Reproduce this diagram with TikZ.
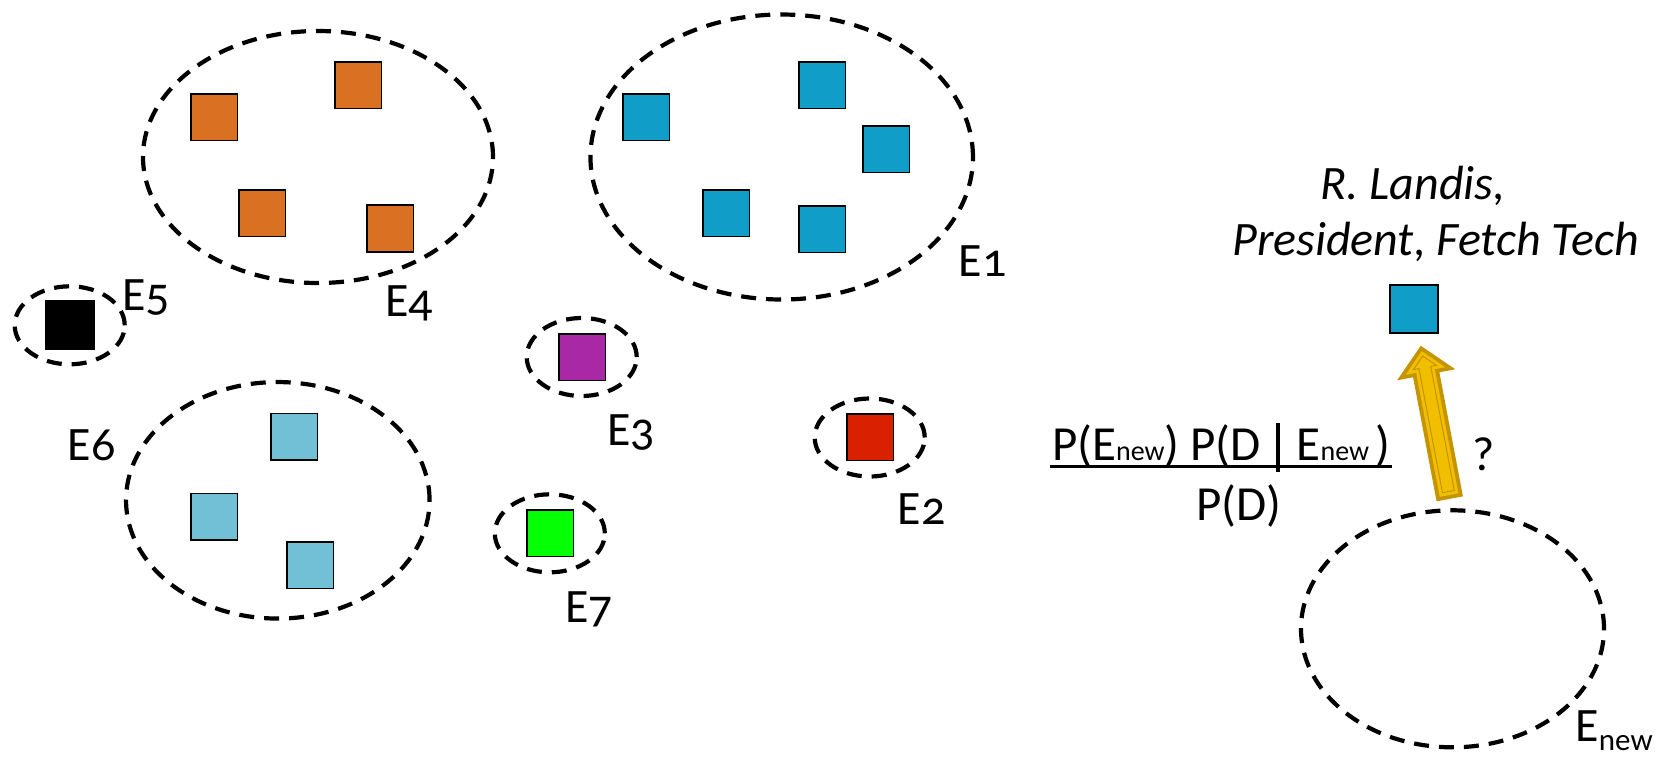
\documentclass[tikz,border=0pt]{standalone}
\usepackage{fontspec}
\setmainfont{Carlito}[Numbers=OldStyle]
\usetikzlibrary{shapes.geometric,calc}
\definecolor{orangeE}{RGB}{217,112,34}
\definecolor{blueE}{RGB}{16,158,200}
\definecolor{lblueE}{RGB}{114,192,214}
\definecolor{purpleE}{RGB}{168,40,166}
\definecolor{redE}{RGB}{217,32,0}
\definecolor{greenE}{RGB}{5,255,5}
\definecolor{goldD}{RGB}{196,148,2}
\definecolor{goldY}{RGB}{242,190,0}
\begin{document}
\begin{tikzpicture}[x=1pt,y=-1pt,
  grp/.style={ellipse, draw=black, line width=4.2pt, dash pattern=on 15pt off 10pt, inner sep=0pt},
  smallgrp/.style={grp, minimum width=110pt, minimum height=78pt},
  sq/.style={rectangle, draw=black, line width=1.6pt, minimum size=46.6pt, inner sep=0pt},
  lbl/.style={anchor=base west, inner sep=0pt, font=\fontsize{48}{56}\selectfont},
  txt/.style={anchor=base, inner sep=0pt, font=\fontsize{49}{56}\selectfont},
  ittxt/.style={anchor=base, inner sep=0pt, font=\fontsize{48}{56}\selectfont\itshape},
]
\useasboundingbox (0,0) rectangle (1675,756);

% E4 (orange)
\node[grp, minimum width=350pt, minimum height=252pt] (e4) at (318,157) {};
\node[sq, fill=orangeE] (o1) at (214,117) {};
\node[sq, fill=orangeE] (o2) at (358,85) {};
\node[sq, fill=orangeE] (o3) at (262,213) {};
\node[sq, fill=orangeE] (o4) at (390,228.5) {};
\node[lbl] (l4) at (385,316.7) {E4};

% E1 (blue)
\node[grp, minimum width=382.5pt, minimum height=285pt] (e1) at (781.7,157) {};
\node[sq, fill=blueE] (b1q) at (646,117) {};
\node[sq, fill=blueE] (b2q) at (822,85) {};
\node[sq, fill=blueE] (b3q) at (886,149) {};
\node[sq, fill=blueE] (b4q) at (726,213) {};
\node[sq, fill=blueE] (b5q) at (822,229) {};
\node[lbl] (l1) at (958.7,276.7) {E1};

% E5 (black)
\node[smallgrp] (e5) at (69.7,325.3) {};
\node[sq, fill=black, minimum size=48.5pt] (k1) at (70,325) {};
\node[lbl] (l5) at (122,310.7) {E5};

% E6 (light blue)
\node[grp, minimum width=303.5pt, minimum height=236.5pt] (e6) at (277.8,500.3) {};
\node[sq, fill=lblueE] (c1) at (294,436.7) {};
\node[sq, fill=lblueE] (c2) at (214,516.7) {};
\node[sq, fill=lblueE] (c3) at (310,565) {};
\node[lbl] (l6) at (67.7,460.7) {E6};

% E3 (purple)
\node[smallgrp] (e3) at (581.7,357) {};
\node[sq, fill=purpleE] (p1) at (582,357) {};
\node[lbl] (l3) at (607,445) {E3};

% E2 (red)
\node[smallgrp] (e2) at (869.7,437.5) {};
\node[sq, fill=redE] (r1) at (870,437) {};
\node[lbl] (l2) at (897.7,524) {E2};

% E7 (green)
\node[smallgrp] (e7) at (549.8,533.3) {};
\node[sq, fill=greenE] (g1) at (550,533) {};
\node[lbl] (l7) at (565.3,622.7) {E7};

% E_new
\node[grp, minimum width=303pt, minimum height=237pt] (enew) at (1452.5,628.8) {};
\node[lbl] (lnew) at (1575.3,741.7) {E\raisebox{-9pt}{\fontsize{31}{34}\selectfont new}};

% new entity
\node[ittxt] (name1) at (1413,199.3) {R. Landis,};
\node[ittxt] (name2) at (1435.5,255) {President, Fetch Tech};
\node[sq, fill=blueE, minimum size=47.5pt] (newsq) at (1414,309) {};

% formula
\node[txt] (num) at (1221,460) {P(E{\fontsize{28}{30}\selectfont new}) P(D\hspace{15pt}\rule[-11.7pt]{3.8pt}{49pt}\hspace{17pt}E{\fontsize{28}{30}\selectfont new}\hspace{6pt})};
\draw[line width=2.6pt] ($(num.base west)+(-2,6.7)$) -- ($(num.base east)+(2,6.7)$);
\node[txt] (den) at (1239,520) {P(D)};
\node[lbl] (qm) at (1472,470) {?};

% block arrow from E_new to the new square
\coordinate (atip) at ($(newsq.south)+(7.2,14.8)$);
\coordinate (abase) at ($(enew.north)+(-3.1,-11.2)$);
\coordinate (ah) at ($(atip)!25pt!(abase)$);
\coordinate (ab1) at ($(abase)!11.5pt!90:(atip)$);
\coordinate (ab2) at ($(abase)!11.5pt!-90:(atip)$);
\coordinate (as1) at ($(ah)!11.5pt!90:(atip)$);
\coordinate (as2) at ($(ah)!11.5pt!-90:(atip)$);
\coordinate (ah1) at ($(ah)!25pt!90:(atip)$);
\coordinate (ah2) at ($(ah)!25pt!-90:(atip)$);
\filldraw[fill=goldY, draw=goldD, line width=3.8pt, line join=miter]
  (ab1) -- (as1) -- (ah1) -- (atip) -- (ah2) -- (as2) -- (ab2) -- cycle;
\coordinate (ib) at ($(abase)!5.5pt!(atip)$);
\coordinate (ih) at ($(atip)!19.5pt!(abase)$);
\coordinate (it) at ($(atip)!7.8pt!(abase)$);
\coordinate (ib1) at ($(ib)!6pt!90:(atip)$);
\coordinate (ib2) at ($(ib)!6pt!-90:(atip)$);
\coordinate (is1) at ($(ih)!6pt!90:(atip)$);
\coordinate (is2) at ($(ih)!6pt!-90:(atip)$);
\coordinate (ih1) at ($(ih)!11.7pt!90:(atip)$);
\coordinate (ih2) at ($(ih)!11.7pt!-90:(atip)$);
\draw[draw=goldD, line width=1pt, line join=miter]
  (ib1) -- (is1) -- (ih1) -- (it) -- (ih2) -- (is2) -- (ib2) -- cycle;
\end{tikzpicture}
\end{document}
